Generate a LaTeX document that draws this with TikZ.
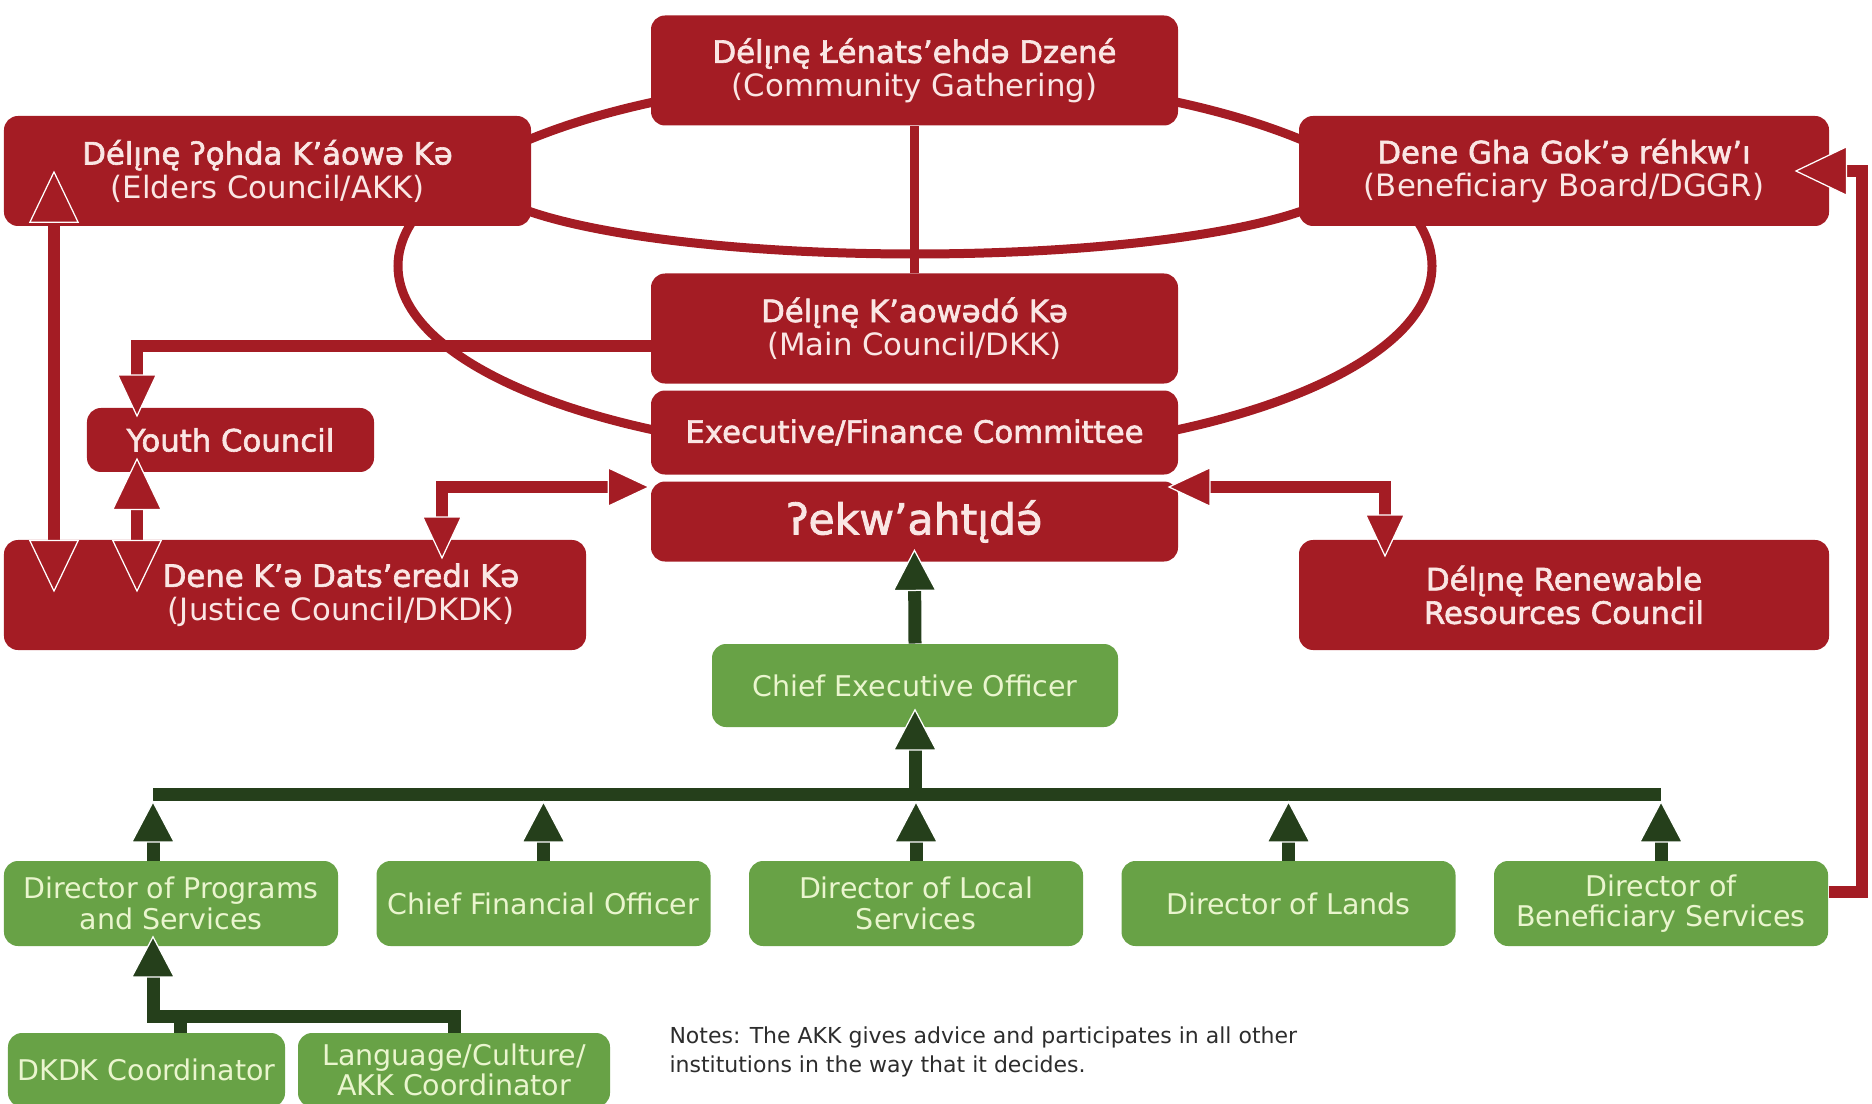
\documentclass[tikz,border=0pt]{standalone}
\usepackage{fontspec}
\setmainfont{DejaVu Sans}[BoldFont = DejaVu Sans, BoldFeatures = {FakeBold = 2}]
\usetikzlibrary{arrows.meta, positioning}

\definecolor{dkred}{RGB}{164,28,36}
\definecolor{redtext}{RGB}{250,230,228}
\definecolor{ltgreen}{RGB}{104,162,70}
\definecolor{greentext}{RGB}{234,245,206}
\definecolor{dkgreen}{RGB}{37,63,27}
\definecolor{notegray}{RGB}{45,45,45}

\tikzset{
  redtip/.tip={Triangle[length=17.2pt, width=16pt, line width=0.5pt, color=white, fill=dkred]},
  bigredtip/.tip={Triangle[length=21pt, width=20pt, line width=0.5pt, color=white, fill=dkred]},
  greentip/.tip={Triangle[length=16.8pt, width=17.6pt, line width=0.5pt, color=white, fill=dkgreen]}
}

\begin{document}
\begin{tikzpicture}[
    x = 0.4pt, y = -0.4pt, % one unit is one pixel of the chart, y downwards
    node distance = 15pt, % gap between the directors
    font = \fontsize{12.3}{13.4}\selectfont
  ]

  \tikzstyle{redbox}=[
    fill = dkred,
    text = redtext,
    rounded corners = 5.6pt,
    align = center,
    minimum width = 210.8pt,
    minimum height = 44pt
  ]
  \tikzstyle{greenbox}=[
    fill = ltgreen,
    text = greentext,
    rounded corners = 5.6pt,
    align = center,
    font = \fontsize{11.4}{12.2}\selectfont,
    minimum width = 133.6pt,
    minimum height = 34pt
  ]
  \tikzstyle{ringline}=[draw = dkred, line width = 3.6pt]
  \tikzstyle{redarrow}=[draw = dkred, line width = 4.8pt]
  \tikzstyle{greenline}=[draw = dkgreen, line width = 5.2pt]
  \tikzstyle{greenarrow}=[greenline, -greentip]

  \useasboundingbox (0,0) rectangle (1872,1104);

  % the ring behind the councils
  \draw[ringline] (915,266) ellipse [x radius = 206.8pt, y radius = 76pt];
  \draw[ringline] (477,173) arc [start angle = 180, end angle = 360, x radius = 175.2pt, y radius = 32.4pt];

  % councils
  \node[redbox] (gather) at (914.5,70.5) {\textbf{Délı̨nę Łénats’ehdə Dzené}\\(Community Gathering)};
  \node[redbox] (elders) at (267.5,171) {\textbf{Délı̨nę ʔǫhda K’áowə Kə}\\(Elders Council/AKK)};
  \node[redbox, minimum width = 212pt] (benef) at (1564,171) {\textbf{Dene Gha Gok’ə réhkw’ı}\\(Beneficiary Board/DGGR)};
  \node[redbox] (main) [below = 58.8pt of gather] {\textbf{Délı̨nę K’aowədó Kə}\\(Main Council/DKK)};
  \node[redbox, minimum height = 33.6pt] (exec) [below = 2.4pt of main] {\textbf{Executive/Finance Committee}};
  \node[redbox, minimum height = 32pt, font = \fontsize{17}{20}\selectfont\bfseries] (chief) [below = 2.4pt of exec] {ʔekw’ahtı̨də́};
  \node[redbox, minimum width = 114.8pt, minimum height = 25.6pt] (youth) at (230.5,440) {\textbf{Youth Council}};
  \node[redbox, minimum width = 232.8pt, label = {[text = redtext, align = center, xshift = 18.4pt]center:{\textbf{Dene K’ə Dats’eredı Kə}\\(Justice Council/DKDK)}}] (justice) at (295,595) {};
  \node[redbox, minimum width = 212pt] (renew) at (1564,595) {\textbf{Délı̨nę Renewable}\\\textbf{Resources Council}};

  % staff
  \node[greenbox, minimum width = 162.4pt, minimum height = 33.2pt] (ceo) at (915,685.5) {Chief Executive Officer};
  \node[greenbox] (dps) at (171,903.5) {Director of Programs\\and Services};
  \node[greenbox] (cfo) [right = of dps] {Chief Financial Officer};
  \node[greenbox] (dls) [right = of cfo] {Director of Local\\Services};
  \node[greenbox] (dl) [right = of dls] {Director of Lands};
  \node[greenbox] (dbs) [right = of dl] {Director of\\Beneficiary Services};
  \node[greenbox, minimum width = 110.8pt, minimum height = 29.6pt, inner xsep = 1.5pt] (dkdk) at (146.5,1070) {DKDK Coordinator};
  \node[greenbox, minimum width = 124.8pt, minimum height = 29.6pt] (lang) at (454,1070) {Language/Culture/\\AKK Coordinator};

  \node[anchor = west, align = left, inner sep = 0pt, text = notegray, font = \fontsize{8.8}{11.5}\selectfont] (notes) at (669,1052)
    {Notes: The AKK gives advice and participates in all other\\institutions in the way that it decides.};

  % red links
  \draw[ringline] (gather.south) -- (main.north);
  \draw[redarrow, -redtip, shorten >= -4pt] ([yshift = -6.8pt]main.west) -| (youth.north -| 137,0);
  \draw[redarrow, bigredtip-bigredtip, shorten <= -6pt, shorten >= -21.2pt] (youth.south -| 137,0) -- (justice.north -| 137,0);
  \draw[redarrow, bigredtip-bigredtip, shorten <= -22.4pt, shorten >= -21.2pt] (elders.south -| 54,0) -- (justice.north -| 54,0);
  \draw[redarrow, redtip-redtip, shorten >= -8pt] ([yshift = -2.4pt]chief.north west) -| (justice.north -| 442,0);
  \draw[redarrow, redtip-redtip, shorten <= -4.4pt, shorten >= -7.2pt] ([yshift = -2.4pt]chief.north east) -| (renew.north -| 1385,0);
  \draw[redarrow, -bigredtip, shorten >= -14pt] ([yshift = 4.6pt]dbs.east) -| (benef.east -| 1862,0) -- (benef.east);

  % green reporting lines
  \coordinate (bus) at (0,794);
  \coordinate (subbus) at (0,1016);
  \draw[greenline] (bus -| 153,0) -- (bus -| dbs.north);
  \draw[greenarrow, shorten >= 2.6pt] (dps.north -| 153,0) -- (bus -| 153,0);
  \foreach \n in {cfo, dls, dl, dbs}
    \draw[greenarrow, shorten >= 2.6pt] (\n.north) -- (\n.north |- bus);
  \draw[greenarrow, shorten >= -7.6pt] (bus -| ceo.south) -- (ceo.south);
  \draw[greenarrow, shorten >= -5.2pt] (ceo.north) -- (chief.south);
  \draw[greenline] (dkdk.north -| 180,0) -- (subbus -| 180,0);
  \draw[greenarrow, shorten >= -4.4pt] (lang.north) -- (lang.north |- subbus) -| (dps.south -| 153,0);

\end{tikzpicture}
\end{document}
